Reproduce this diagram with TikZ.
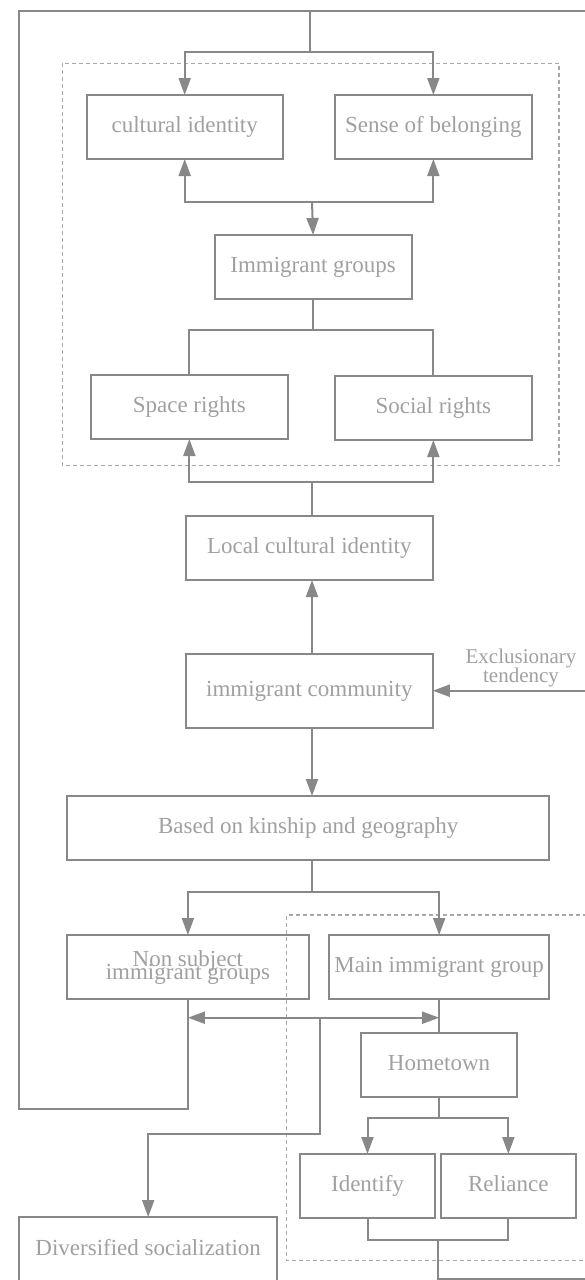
\documentclass[tikz,border=0pt]{standalone}
\usepackage{fontspec}
\setmainfont{Liberation Serif}
\usetikzlibrary{arrows.meta}
\definecolor{lc}{HTML}{888888}
\definecolor{tc}{HTML}{A0A0A0}
\definecolor{dc}{HTML}{A8A8A8}
\begin{document}
\begin{tikzpicture}[x=1pt,y=-1pt,
  boxbase/.style={draw=lc, line width=2pt, text=tc, inner sep=0pt, outer sep=0pt,
    anchor=north west, font=\fontsize{23}{27}\selectfont, align=center},
  box/.style={boxbase, text height=15.5pt, text depth=5pt},
  lbl/.style={text=tc, inner sep=0pt, font=\fontsize{21}{27}\selectfont, align=center},
  con/.style={draw=lc, line width=2pt},
  arr/.style={con, -{Triangle[length=17pt,width=12pt]}},
  darr/.style={con, {Triangle[length=17pt,width=12pt]}-{Triangle[length=17pt,width=12pt]}},
  grp/.style={draw=dc, line width=1.2pt, dash pattern=on 4pt off 3pt}]
\useasboundingbox (0,0) rectangle (585,1280);

% groups
\draw[grp] (62.3,63.3) rectangle (559,465.7);
\draw[grp] (587,915) -- (286.6,915) -- (286.6,1260.7) -- (587,1260.7);

% nodes
\node[box, minimum width=196.2pt, minimum height=64pt] (ci) at (86.6,95) {cultural identity};
\node[box, minimum width=196.7pt, minimum height=64pt] (sb) at (335,95) {Sense of belonging};
\node[box, minimum width=197pt, minimum height=64pt] (ig) at (214.6,235) {Immigrant groups};
\node[box, minimum width=196.7pt, minimum height=64pt] (sr) at (91,375) {Space rights};
\node[box, minimum width=196.7pt, minimum height=64pt] (so) at (335,376) {Social rights};
\node[box, minimum width=247pt, minimum height=64pt] (lci) at (185.8,516) {Local cultural identity};
\node[box, minimum width=247pt, minimum height=74pt] (ic) at (185.8,654) {immigrant community};
\node[box, minimum width=482.1pt, minimum height=64pt] (bk) at (67.2,796) {Based on kinship and geography};
\node[boxbase, minimum width=241.4pt, minimum height=64pt] (ns) at (67.2,935) {Non subject\\[-14pt]immigrant groups};
\node[box, minimum width=220.3pt, minimum height=64pt] (mg) at (329,935) {Main immigrant group};
\node[box, minimum width=155.6pt, minimum height=64pt] (ht) at (361.2,1033) {Hometown};
\node[box, minimum width=135.8pt, minimum height=64pt] (id) at (299.6,1154) {Identify};
\node[box, minimum width=134.7pt, minimum height=64pt] (rl) at (441,1154) {Reliance};
\node[box, minimum width=257.6pt, minimum height=66pt] (ds) at (19.4,1217) {Diversified socialization};
\node[lbl] (ex) at (521,668.4) {Exclusionary\\[-8pt]tendency};

% helper coordinates
\coordinate (cx) at (312,0);
\coordinate (top) at (310,11);
\coordinate (tj) at (310,52);
\coordinate (h1) at (312,202);
\coordinate (h2) at (312,482);
\coordinate (h4) at (0,1017.7);
\coordinate (dj) at (320,1017.7);
\coordinate (lp) at (18.7,1109);
\coordinate (exr) at (586,690.7);
\coordinate (bj) at (437.7,1240);

% outer loop
\draw[con] (ns.south) |- (lp) -- (18.7,11) -- (586,11);
\draw[arr] (top) -- (tj) -| (ci.north);
\draw[arr] (tj) -| (sb.north);

% upper junction
\draw[arr] (h1) -| (ci.south);
\draw[arr] (h1) -| (sb.south);
\draw[arr] (h1) -- (ig.north);

% immigrant groups to rights
\draw[con] (ig.south) -- ++(0,31) -| (sr.north);
\draw[con] (ig.south) -- ++(0,31) -| (so.north);

% lower junction
\draw[arr] (h2) -| (sr.south);
\draw[arr] (h2) -| (so.south);
\draw[con] (h2) -- (cx |- lci.north);

% community
\draw[arr] (cx |- ic.north) -- (cx |- lci.south);
\draw[arr] (exr) -- (ic.east |- exr);
\draw[arr] (cx |- ic.south) -- (cx |- bk.north);

% kinship split
\draw[con] (cx |- bk.south) -- ++(0,32) coordinate (h3);
\draw[arr] (h3) -| (ns.north);
\draw[arr] (h3) -| (mg.north);

% double arrow and branches
\draw[darr] (ns.south |- h4) -- (mg.south |- h4);
\draw[con] (mg.south) -- (mg.south |- ht.north);
\draw[arr] (dj) -- (320,1134.3) -| (ds.north);

% hometown split
\draw[con] (ht.south) -- ++(0,20.7) coordinate (h6);
\draw[arr] (h6) -| (id.north);
\draw[arr] (h6) -| (rl.north);

% bottom join
\draw[con] (id.south) |- (bj) -| (rl.south);
\draw[con] (bj) -- (437.7,1278.5) -- (586,1278.5);
\end{tikzpicture}
\end{document}
